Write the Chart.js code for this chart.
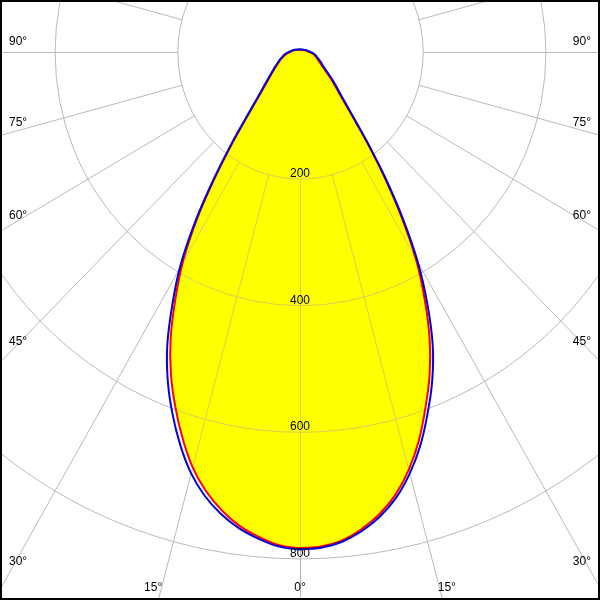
<!DOCTYPE html>
<html><head><meta charset="utf-8">
<script src="https://cdn.jsdelivr.net/npm/chart.js@4/dist/chart.umd.min.js"></script>
<style>html,body{margin:0;padding:0;background:#fff;}canvas{display:block;}</style>
</head><body>
<canvas id="c" width="600" height="600"></canvas>
<script>
// gamma angles (degrees from nadir)
const gammaAngles = [0,2.5,5,7.5,10,12.5,15,17.5,20,22.5,25,27.5,30,32.5,35,37.5,40,42.5,45,50,55,60,65,70,75,80,85,90,100,110,120,130,140,150,160,170,180];
// C0 / C180 plane (blue), cd/klm
const c0Values   = [786,784,777,764,746,722,690,652,608,563,512,450,385,312,242,182,138,110,92,70,53,43,37,32,28,25,21,17,12,9,7,6,5,5,4,4,4];
const c180Values = [786,782,772,759,741,718,688,650,608,563,512,451,390,318,245,185,140,111,92,70,56,47,40,35,30,26,22,18,13,10,7,6,5,5,4,4,4];
// C90 / C270 plane (red)
const c90Values  = [784,782,775,761,742,717,684,644,598,552,500,440,378,306,237,178,134,106,88,66,50,40,34,29,26,23,19,15,11,8,6,5,4,4,4,4,4];
const c270Values = [784,780,769,755,735,710,678,638,595,550,499,440,381,312,240,180,136,108,89,67,54,45,38,33,28,24,20,16,12,9,7,5,5,4,4,4,4];
// grid
const ringValues = [200,400,600,800,1000];
const ringLabels = ['200','400','600','800'];
const spokeAngles = [0,15,30,45,60,75,90,105,120,135,150,165,180,195,210,225,240,255,270,285,300,315,330,345];
const sideAngleLabels = ['30°','45°','60°','75°','90°'];
const sideAngles = [30,45,60,75,90];
const bottomAngleLabels = ['0°','15°'];
const bottomAngles = [0,15];

function planePoints(rightVals, leftVals) {
  const pts = [];
  for (let i = 0; i < gammaAngles.length; i++) {
    const t = gammaAngles[i] * Math.PI / 180;
    pts.push({x: rightVals[i] * Math.sin(t), y: -rightVals[i] * Math.cos(t)});
  }
  for (let i = gammaAngles.length - 1; i >= 0; i--) {
    const t = gammaAngles[i] * Math.PI / 180;
    pts.push({x: -leftVals[i] * Math.sin(t), y: -leftVals[i] * Math.cos(t)});
  }
  return pts;
}
const bluePts = planePoints(c0Values, c180Values);
const redPts = planePoints(c90Values, c270Values);

const GRID = '#b9b9b9';
const GRID_IN = '#d9cc5a';
const FONT = '12px "Liberation Sans", Arial, sans-serif';
const TENSION = 0.35;

function drawGrid(chart, color) {
  const ctx = chart.ctx, xs = chart.scales.x, ys = chart.scales.y;
  const cx = xs.getPixelForValue(0), cy = ys.getPixelForValue(0);
  ctx.save();
  ctx.translate(0.5, 0.5);
  ctx.strokeStyle = color; ctx.lineWidth = 1;
  for (const r of ringValues) {
    const rx = xs.getPixelForValue(r) - cx, ry = cy - ys.getPixelForValue(r);
    ctx.beginPath(); ctx.ellipse(cx, cy, rx, ry, 0, 0, 2 * Math.PI); ctx.stroke();
  }
  const r0 = ringValues[0], rMax = 3000;
  for (const a of spokeAngles) {
    const t = a * Math.PI / 180;
    ctx.beginPath();
    ctx.moveTo(xs.getPixelForValue(r0 * Math.sin(t)), ys.getPixelForValue(-r0 * Math.cos(t)));
    ctx.lineTo(xs.getPixelForValue(rMax * Math.sin(t)), ys.getPixelForValue(-rMax * Math.cos(t)));
    ctx.stroke();
  }
  ctx.restore();
}

const polarGrid = {
  id: 'polarGrid',
  beforeDatasetsDraw(chart) { drawGrid(chart, GRID); },
  afterDatasetDraw(chart, args) {
    if (args.index !== 2) return;
    const meta = chart.getDatasetMeta(2);
    const ctx = chart.ctx;
    ctx.save();
    ctx.beginPath();
    meta.dataset.path(ctx);
    ctx.closePath();
    ctx.clip();
    drawGrid(chart, GRID_IN);
    ctx.restore();
  },
  afterDraw(chart) {
    const ctx = chart.ctx, xs = chart.scales.x, ys = chart.scales.y;
    const cx = xs.getPixelForValue(0), cy = ys.getPixelForValue(0);
    const W = chart.width, H = chart.height;
    ctx.save();
    ctx.fillStyle = '#000';
    ctx.font = FONT;
    ctx.textBaseline = 'middle';
    ctx.textAlign = 'center';
    ringLabels.forEach((lab, i) => {
      ctx.fillText(lab, cx, ys.getPixelForValue(-ringValues[i]) - 5);
    });
    sideAngles.forEach((a, i) => {
      const t = a * Math.PI / 180;
      const y = cy + cx * Math.cos(t) / Math.sin(t) - 10;
      ctx.textAlign = 'left'; ctx.fillText(sideAngleLabels[i], 9, y);
      ctx.textAlign = 'right'; ctx.fillText(sideAngleLabels[i], W - 9, y);
    });
    ctx.textAlign = 'center';
    bottomAngles.forEach((a, i) => {
      const dx = (H - cy) * Math.tan(a * Math.PI / 180);
      ctx.fillText(bottomAngleLabels[i], cx - dx, H - 12);
      if (a) ctx.fillText(bottomAngleLabels[i], cx + dx, H - 12);
    });
    ctx.strokeStyle = '#000'; ctx.lineWidth = 2;
    ctx.strokeRect(1, 1, W - 2, H - 2);
    ctx.restore();
  }
};

new Chart(document.getElementById('c'), {
  type: 'scatter',
  data: {
    datasets: [
      {label: 'C0-C180', data: bluePts, showLine: true, borderColor: '#0000d8', borderWidth: 2, pointRadius: 0, fill: false, tension: TENSION, order: 1},
      {label: 'C90-C270', data: redPts, showLine: true, borderColor: '#ff0000', borderWidth: 2, pointRadius: 0, fill: false, tension: TENSION, order: 2},
      {label: 'fill', data: redPts, showLine: true, borderWidth: 0, borderColor: 'rgba(0,0,0,0)', backgroundColor: '#ffff00', pointRadius: 0, fill: 'shape', tension: TENSION, order: 3}
    ]
  },
  options: {
    responsive: false,
    animation: false,
    devicePixelRatio: 1,
    events: [],
    layout: {padding: 0},
    plugins: {legend: {display: false}, tooltip: {enabled: false}},
    scales: {
      x: {type: 'linear', min: -489, max: 489, display: false},
      y: {type: 'linear', min: -865.72, max: 82.15, display: false}
    }
  },
  plugins: [polarGrid]
});
</script>
</body></html>
